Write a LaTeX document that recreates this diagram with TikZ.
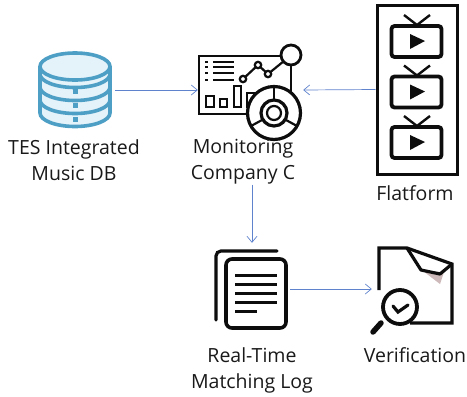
\documentclass[tikz,border=0pt]{standalone}
\usepackage{fontspec}
\setmainfont{Open Sans}
\usepackage{tikz}
\usetikzlibrary{arrows.meta}
\definecolor{dbblue}{HTML}{4E9FC6}
\definecolor{dbfill}{HTML}{E4F2F9}
\definecolor{linkblue}{HTML}{5F83CC}
\definecolor{foldshade}{HTML}{CDB9B9}
\tikzset{
    label/.style={align=center,font=\fontsize{19.5}{26}\selectfont,text=black!90,inner sep=0pt},
    slot/.style={inner sep=0pt},
    link/.style={draw=linkblue,line width=0.7pt,-{Straight Barb[length=6pt,width=10pt]}},
    icon/.style={draw=black!95,line width=3.2pt},
    thinicon/.style={draw=black!95,line width=2.2pt},
    dbline/.style={draw=dbblue,line width=3.6pt}
}
\begin{document}
\begin{tikzpicture}[x=1pt,y=-1pt]
        \useasboundingbox (0,0) rectangle (467,397);
        % slots the links attach to
        \node[slot,minimum width=80pt,minimum height=80pt] (db) at (75,90) {};
        \node[slot,minimum width=105pt,minimum height=70pt] (monitor) at (250.5,90) {};
        \node[slot,draw=black!95,line width=3pt,minimum width=80pt,minimum height=169pt] (flatform) at (417,89.5) {};
        \node[slot,minimum width=76pt,minimum height=92pt] (log) at (252,289) {};
        \node[slot,minimum width=80pt,minimum height=84pt] (verify) at (412,289) {};
        % database
        \draw[dbline,fill=dbfill] (40,67) -- (40,113) arc[start angle=180,end angle=360,x radius=35pt,y radius=13.5pt] -- (110,67);
        \draw[dbline,fill=dbfill] (75,66.5) ellipse (35pt and 13.5pt);
        \foreach \y in {74,87,100} {
            \draw[dbline] (40,\y) arc[start angle=180,end angle=360,x radius=35pt,y radius=13.5pt];
        }
        \foreach \y in {91,105,119} {
            \fill[dbblue] (72.5,\y-2.5) rectangle (77.5,\y+2.5);
        }
        % dashboard
        \draw[icon,line width=2.8pt] (199,56) rectangle (291,114);
        \foreach \y in {62,67,73,80} {
            \fill[black!95] (205,\y-1.4) rectangle (208,\y+1.4);
            \fill[black!95] (213,\y-1.4) rectangle (234,\y+1.4);
        }
        \draw[thinicon] (243,79) -- (258,65) -- (268,74) -- (284,61);
        \foreach \x/\y in {243/79,258/65,268/74} {
            \draw[thinicon,fill=white] (\x,\y) circle (3.2pt);
        }
        \draw[icon,line width=2.8pt,fill=white] (291,55) circle (10pt);
        \draw[thinicon,line width=2.6pt] (206,96) rectangle (214,107);
        \draw[thinicon,line width=2.6pt] (220,99) rectangle (227,107);
        \draw[thinicon,line width=2.6pt] (234,86) rectangle (241,107);
        \draw[thinicon,line width=2.6pt] (247,93) rectangle (254,107);
        \draw[icon,fill=white] (274,113) circle (26.5pt);
        \draw[icon] (274,113) circle (13pt);
        \draw[thinicon] (274,113) circle (7pt);
        \draw[thinicon] (274,87) -- (274,100);
        \draw[thinicon] (251,126) -- (262,120);
        \draw[thinicon] (297,126) -- (286,120);
        % tv screens
        \foreach \y in {0,50.5,101} {
            \draw[icon,line width=3.8pt,rounded corners=3pt] (391.5,26+\y) rectangle (441.5,57+\y);
            \draw[thinicon,line width=2.4pt] (404,15+\y) -- (417,25+\y) -- (430,15+\y);
            \fill[black!95] (410,34+\y) -- (425,41+\y) -- (410,49+\y) -- cycle;
        }
        % log sheets
        \draw[icon,line cap=round,rounded corners=5pt] (216,320) -- (216,251) -- (277,251);
        \draw[icon,line width=3.6pt,rounded corners=6pt] (226,259) rectangle (286,328);
        \foreach \y in {275,284,293,302} {
            \draw[icon,line width=3pt] (235,\y) -- (277,\y);
        }
        \draw[icon,line width=3pt] (235,311) -- (257,311);
        % checked page
        \fill[foldshade] (423,271) -- (440,284) -- (444,272) -- cycle;
        \draw[icon,line join=miter] (379,290) -- (379,248) -- (407,248) -- (452,264) -- (452,323) -- (410,323);
        \draw[icon,line join=round] (407,248) -- (421,270) -- (440,274) -- (452,264);
        \draw[icon,line width=5.5pt,line cap=round] (381,323) -- (373,332);
        \draw[icon,line width=3.8pt,fill=white] (400,307) circle (17pt);
        \draw[icon,line width=3.2pt,line cap=round] (393,306) -- (398,312) -- (408,305);
        % labels
        \node[label] (dblabel) at (74,160) {TES Integrated\\Music DB};
        \node[label] (monitorlabel) at (243,162) {Monitoring\\Company C};
        \node[label] (flatformlabel) at (415,193) {Flatform};
        \node[label] (loglabel) at (252,370) {Real-Time\\Matching Log};
        \node[label] (verifylabel) at (415,355) {Verification};
        % links
        \draw[link] (db.east) -- (monitor.west);
        \draw[link] (flatform.west) -- (monitor.east);
        \draw[link] (log.north |- monitorlabel.south) -- (log.north);
        \draw[link] (log.east) -- (verify.west);
    \end{tikzpicture}
\end{document}
